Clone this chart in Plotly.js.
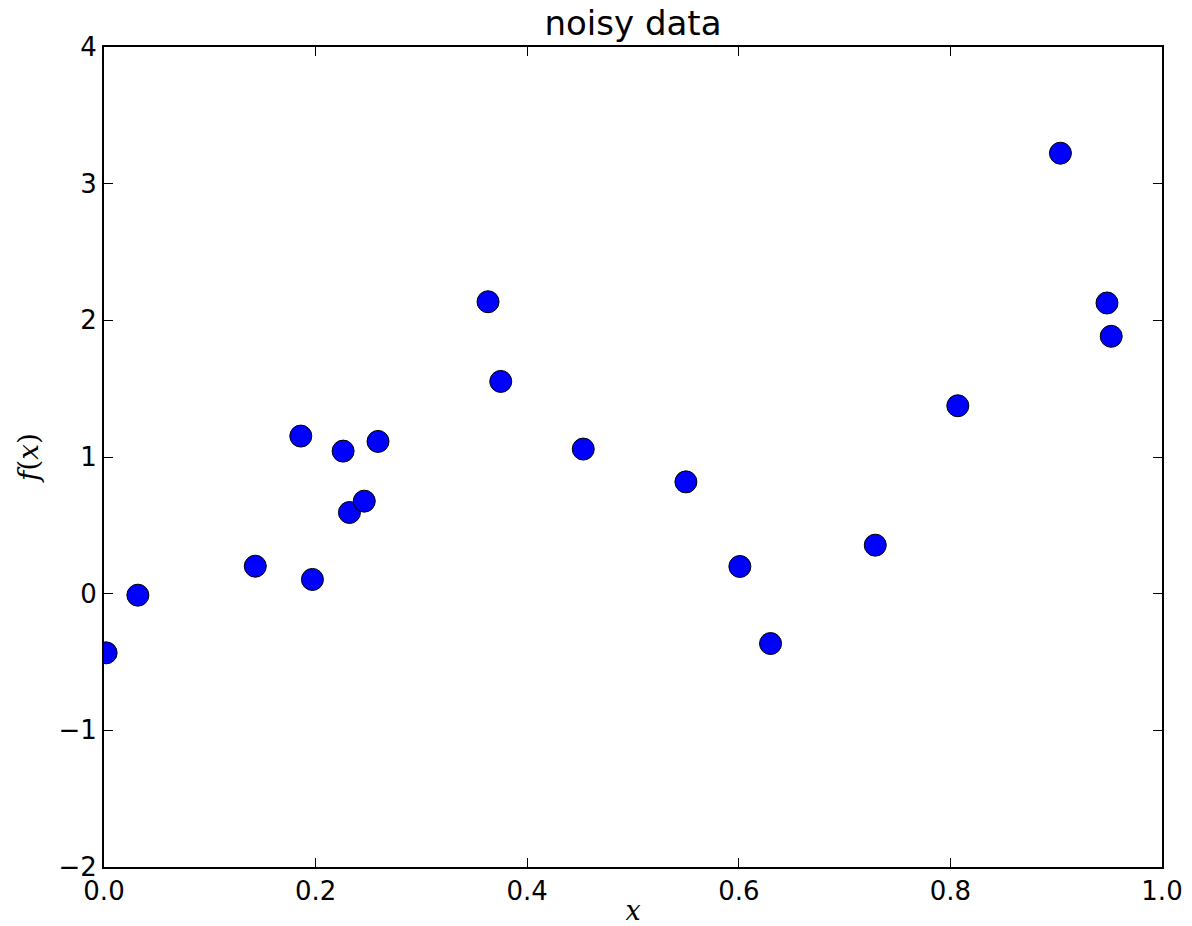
<!DOCTYPE html>
<html>
<head>
<meta charset="utf-8">
<script src="https://cdn.plot.ly/plotly-3.0.1.min.js"></script>
<style>
  html, body { margin: 0; padding: 0; background: #fff; }
  #chart { width: 1192px; height: 926px; }
</style>
</head>
<body>
<div id="chart"></div>
<script>
// Data
const xValues = [0.002, 0.032, 0.143, 0.186, 0.197, 0.226, 0.232, 0.246, 0.259, 0.363,
                 0.375, 0.453, 0.550, 0.601, 0.630, 0.729, 0.807, 0.904, 0.948, 0.952];
const yValues = [-0.433, -0.011, 0.201, 1.153, 0.104, 1.043, 0.594, 0.677, 1.114, 2.136,
                 1.553, 1.058, 0.818, 0.199, -0.365, 0.355, 1.375, 3.223, 2.127, 1.883];
const xTicks = [0.0, 0.2, 0.4, 0.6, 0.8, 1.0];
const xTickLabels = ["0.0", "0.2", "0.4", "0.6", "0.8", "1.0"];
const yTicks = [-2, -1, 0, 1, 2, 3, 4];
const yTickLabels = ["\u22122", "\u22121", "0", "1", "2", "3", "4"];
const chartTitle = "noisy data";
const xLabel = "<i>x</i>";
const yLabel = "<i>f</i>(<i>x</i>)";

const trace = {
  type: "scatter",
  mode: "markers",
  x: xValues,
  y: yValues,
  marker: { color: "#0000ff", size: 22, line: { color: "#000000", width: 1 } },
  cliponaxis: true,
  hoverinfo: "x+y"
};

const axisCommon = {
  showline: true,
  linecolor: "#000",
  linewidth: 2,
  mirror: "allticks",
  ticks: "inside",
  ticklen: 9,
  tickwidth: 1,
  tickcolor: "#000",
  showgrid: false,
  zeroline: false,
  tickfont: { family: "DejaVu Sans", size: 26, color: "#000" }
};

const layout = {
  width: 1192,
  height: 926,
  autosize: false,
  paper_bgcolor: "#fff",
  plot_bgcolor: "#fff",
  showlegend: false,
  margin: { l: 104, r: 30, t: 47, b: 59, pad: 0 },
  title: {
    text: chartTitle,
    font: { family: "DejaVu Sans", size: 34, color: "#000" },
    x: 0.5, xref: "paper", xanchor: "center",
    y: 1, yref: "paper", yanchor: "bottom",
    pad: { b: 12 }
  },
  xaxis: Object.assign({}, axisCommon, {
    range: [0, 1],
    tickmode: "array",
    tickvals: xTicks,
    ticktext: xTickLabels,
    title: { text: xLabel, font: { family: "DejaVu Serif", size: 27, color: "#000" }, standoff: 2 }
  }),
  yaxis: Object.assign({}, axisCommon, {
    range: [-2, 4],
    tickmode: "array",
    tickvals: yTicks,
    ticktext: yTickLabels,
    title: { text: yLabel, font: { family: "DejaVu Serif", size: 28, color: "#000" }, standoff: 12 }
  })
};

Plotly.newPlot("chart", [trace], layout, { displayModeBar: false, staticPlot: false });
</script>
</body>
</html>
